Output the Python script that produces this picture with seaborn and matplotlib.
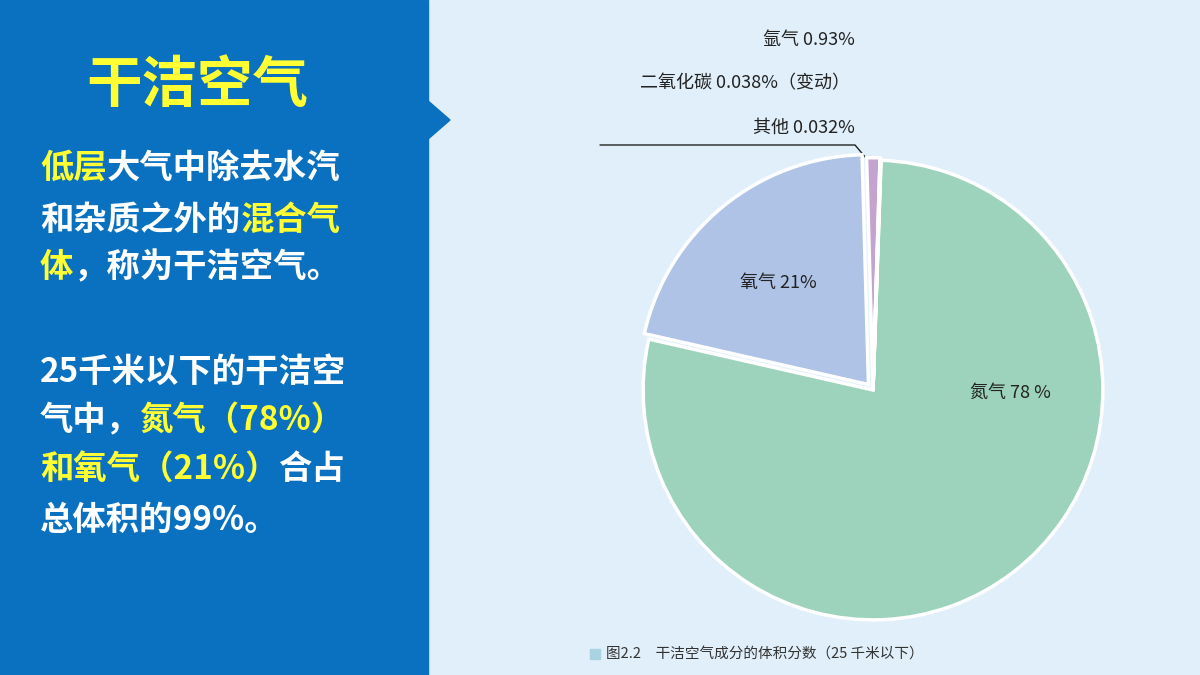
import matplotlib
matplotlib.use("agg")
import matplotlib.pyplot as plt
from matplotlib.patches import Rectangle, Polygon
import seaborn as sns

sns.set_style("white")
plt.rcParams['font.family'] = ['Noto Sans CJK SC', 'DejaVu Sans']

# data
gases = ["氮气", "氧气", "氩气", "二氧化碳", "其他"]
shares = [78, 21, 0.93, 0.038, 0.032]
slice_colors = ["#9dd3bd", "#aec3e6", "#c5a3cf", "#b9a0cc", "#b9a0cc"]

W, H = 1200, 675
fig = plt.figure(figsize=(12, 6.75), dpi=100)
fig.patch.set_facecolor("#e0eff9")
bg = fig.add_axes([0, 0, 1, 1])
bg.set_xlim(0, W); bg.set_ylim(H, 0); bg.axis("off")
bg.add_patch(Rectangle((0, 0), 428, H, color="#0a70c0"))
bg.add_patch(Polygon([(427, 100), (450, 120), (427, 140)], color="#0a70c0"))

# left text with coloured segments
YEL, WHT = "#ffff33", "white"
bg.text(197, 86, "干洁空气", color=YEL, fontsize=40, fontweight="bold", ha="center", va="center")
lines = [
    (168, [("低层", YEL), ("大气中除去水汽", WHT)]),
    (220, [("和杂质之外的", WHT), ("混合气", YEL)]),
    (268, [("体", YEL), ("，称为干洁空气。", WHT)]),
    (372, [("25千米以下的干洁空", WHT)]),
    (420, [("气中，", WHT), ("氮气（78%）", YEL)]),
    (470, [("和氧气（21%）", YEL), ("合占", WHT)]),
    (520, [("总体积的99%。", WHT)]),
]
fig.canvas.draw()
r = fig.canvas.get_renderer()
for y, segs in lines:
    x = 40
    for s, c in segs:
        t = bg.text(x, y, s, color=c, fontsize=24, fontweight="bold", va="center")
        x += t.get_window_extent(r).width

# pie
R = 237
ax = fig.add_axes([(873 - R) / W, 1 - (390 + R) / H, 2 * R / W, 2 * R / H])
ax.pie(shares, colors=slice_colors, startangle=88, counterclock=False,
       explode=[0, 0.03, 0.01, 0, 0], radius=0.97,
       wedgeprops=dict(edgecolor="white", linewidth=2.5))
ax.set_xlim(-1, 1); ax.set_ylim(-1, 1)
ax.set_aspect("equal")

def label(x, y, s, **kw):
    fig.text(x, y, s, transform=bg.transData, fontsize=13, va="center",
             color="#222", zorder=5, **kw)

label(1010, 393, "氮气 78 %", ha="center")
label(778, 283, "氧气 21%", ha="center")
label(855, 40, "氩气 0.93%", ha="right")
label(850, 83, "二氧化碳 0.038%（变动）", ha="right")
label(855, 128, "其他 0.032%", ha="right")
bg.plot([600, 855, 866], [145, 145, 158], color="#222", lw=1)

bg.add_patch(Rectangle((590, 649), 10, 10, color="#a9d3e0"))
bg.text(606, 655, "图2.2　干洁空气成分的体积分数（25 千米以下）", fontsize=10.5,
        va="center", color="#333")

fig.savefig("out.png", dpi=100, facecolor=fig.get_facecolor())
